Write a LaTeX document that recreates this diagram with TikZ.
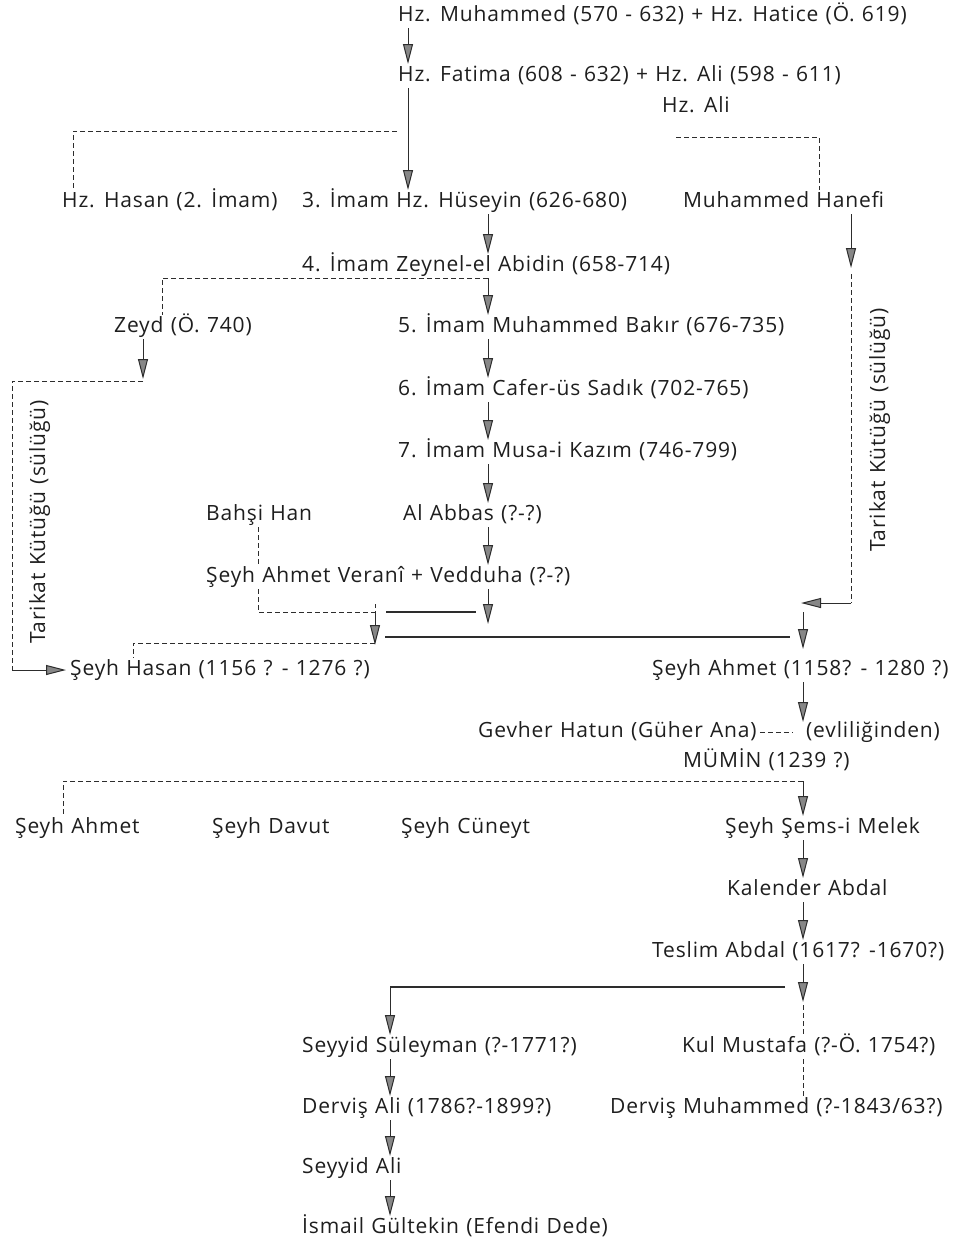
\documentclass[tikz,border=0pt]{standalone}
\usepackage{fontspec}
\setmainfont{Open Sans}[LetterSpace=4, WordSpace=1.15]
\usetikzlibrary{arrows.meta}
\definecolor{color_line}{RGB}{45, 45, 45}
\definecolor{color_tip}{RGB}{135, 135, 135}
\definecolor{color_text}{RGB}{30, 30, 30}

\begin{document}
\begin{tikzpicture}[
    x=1pt, y=-1pt,
    every node/.style={font=\fontsize{21}{25}\selectfont, text=color_text, anchor=west,
        inner sep=0pt, outer ysep=3pt, text height=14pt, text depth=4pt},
    link/.style={color_line, line width=1pt},
    dashlink/.style={link, dash pattern=on 5pt off 3pt},
    bar/.style={color_line, line width=1.6pt},
    tiparrow/.style={link, -{Triangle[length=20pt,width=10pt,fill=color_tip]}},
    sidelabel/.style={anchor=center, rotate=90}
]
    % page is 953 x 1250, y runs downwards
    \useasboundingbox (0,0) rectangle (953,1250);

    % columns of the arrows
    \coordinate (colA) at (408,0);
    \coordinate (colB) at (488,0);
    \coordinate (colC) at (851,0);
    \coordinate (colD) at (803,0);
    \coordinate (colE) at (390,0);
    \coordinate (colBahsi) at (258,0);
    \coordinate (colHasan) at (133,0);
    \coordinate (colAhmet) at (63,0);

    % names, top to bottom
    \node (muhammed)  at (398,16)   {Hz. Muhammed (570 - 632) + Hz. Hatice (Ö. 619)};
    \node (fatima)    at (398,76)   {Hz. Fatima (608 - 632) + Hz. Ali (598 - 611)};
    \node (ali)       at (662,107)  {Hz. Ali};
    \node (hasan)     at (62,202)   {Hz. Hasan (2. İmam)};
    \node (huseyin)   at (302,202)  {3. İmam Hz. Hüseyin (626-680)};
    \node (hanefi)    at (683,202)  {Muhammed Hanefi};
    \node (zeynel)    at (302,266)  {4. İmam Zeynel-el Abidin (658-714)};
    \node (zeyd)      at (114,327)  {Zeyd (Ö. 740)};
    \node (bakir)     at (398,327)  {5. İmam Muhammed Bakır (676-735)};
    \node (cafer)     at (398,390)  {6. İmam Cafer-üs Sadık (702-765)};
    \node (musa)      at (398,452)  {7. İmam Musa-i Kazım (746-799)};
    \node (bahsi)     at (206,515)  {Bahşi Han};
    \node (abbas)     at (403,515)  {Al Abbas (?-?)};
    \node (verani)    at (206,577)  {Şeyh Ahmet Veranî + Vedduha (?-?)};
    \node (seyhhasan) at (70,670)   {Şeyh Hasan (1156 ? - 1276 ?)};
    \node (seyhahmet) at (652,670)  {Şeyh Ahmet (1158? - 1280 ?)};
    \node (gevher)    at (478,732)  {Gevher Hatun (Güher Ana)};
    \node (evlilik)   at (806,732)  {(evliliğinden)};
    \node (mumin)     at (683,762)  {MÜMİN (1239 ?)};
    \node (ahmet)     at (15,828)   {Şeyh Ahmet};
    \node (davut)     at (212,828)  {Şeyh Davut};
    \node (cuneyt)    at (401,828)  {Şeyh Cüneyt};
    \node (sems)      at (725,828)  {Şeyh Şems-i Melek};
    \node (kalender)  at (727,890)  {Kalender Abdal};
    \node (teslim)    at (652,952)  {Teslim Abdal (1617? -1670?)};
    \node (suleyman)  at (302,1047) {Seyyid Süleyman (?-1771?)};
    \node (kul)       at (682,1047) {Kul Mustafa (?-Ö. 1754?)};
    \node (dervisali) at (302,1108) {Derviş Ali (1786?-1899?)};
    \node (dervismuh) at (610,1108) {Derviş Muhammed (?-1843/63?)};
    \node (seyyidali) at (302,1168) {Seyyid Ali};
    \node (ismail)    at (302,1228) {İsmail Gültekin (Efendi Dede)};

    \node[sidelabel] (kutukL) at (40,522) {Tarikat Kütüğü (sülüğü)};
    \node[sidelabel] (kutukR) at (880,430) {Tarikat Kütüğü (sülüğü)};

    % junctions
    \coordinate (jHasan)    at (73,131);
    \coordinate (jHanefi)   at (819,137);
    \coordinate (jZeyd)     at (162,284);
    \coordinate (jZeydTip)  at (143,379);
    \coordinate (jLeftTop)  at (12,381);
    \coordinate (jLeftBot)  at (12,670);
    \coordinate (jMerge)    at (375,612);
    \coordinate (jMergeTip) at (375,645);
    \coordinate (jHanefiTip) at (851,268);
    \coordinate (jAhmetIn)  at (801,603);
    \coordinate (jMarriage) at (803,722);
    \coordinate (jMumin)    at (803,781);
    \coordinate (jTeslim)   at (803,1002);

    % Hz. Muhammed -- Hz. Fatima -- sons
    \draw[tiparrow] (muhammed.south -| colA) -- (fatima.north -| colA);
    \draw[tiparrow] (fatima.south -| colA) -- (huseyin.north -| colA);
    \draw[dashlink] ([xshift=-11pt]jHasan -| colA) -- (jHasan) -- (hasan.north -| jHasan);
    \draw[dashlink] ([xshift=14pt]ali.west |- jHanefi) -- (jHanefi) -- (hanefi.north -| jHanefi);

    % line of the imams
    \draw[tiparrow] (huseyin.south -| colB) -- (zeynel.north -| colB);
    \draw[dashlink] (zeynel.south -| colB) -- (zeynel.south -| jZeyd) -- (zeyd.north -| jZeyd);
    \draw[tiparrow] (zeynel.south -| colB) -- (bakir.north -| colB);
    \draw[tiparrow] (bakir.south -| colB) -- (cafer.north -| colB);
    \draw[tiparrow] (cafer.south -| colB) -- (musa.north -| colB);
    \draw[tiparrow] (musa.south -| colB) -- (abbas.north -| colB);
    \draw[tiparrow] (abbas.south -| colB) -- (verani.north -| colB);
    \draw[tiparrow] (verani.south -| colB) -- ([yshift=-12pt]jMerge -| colB);

    % Zeyd -- left Tarikat line -- Şeyh Hasan
    \draw[tiparrow] (zeyd.south -| jZeydTip) -- (jZeydTip);
    \draw[dashlink] ([yshift=-2pt]jZeydTip) -- (jLeftTop) -- (jLeftBot);
    \draw[tiparrow] (jLeftBot) -- ([xshift=-4pt]seyhhasan.west);

    % Bahşi Han -- Veranî -- merge
    \draw[dashlink] (bahsi.south -| colBahsi) -- (verani.north -| colBahsi);
    \draw[dashlink] (verani.south -| colBahsi) -- (jMerge -| colBahsi) -- (jMerge) -- ++(0,-8);
    \draw[bar] ([xshift=11pt]jMerge) -- ([xshift=-12pt]jMerge -| colB);
    \draw[tiparrow] (jMerge) -- (jMergeTip);
    \draw[dashlink] ([yshift=2pt]jMergeTip) -- ([yshift=2pt]jMergeTip -| colHasan)
        -- (seyhhasan.north -| colHasan);
    \draw[bar] ([xshift=10pt,yshift=-25pt]jMerge) -- ([xshift=-13pt,yshift=-25pt]jMerge -| colD);

    % Muhammed Hanefi -- right Tarikat line -- Şeyh Ahmet
    \draw[tiparrow] (hanefi.south -| colC) -- (jHanefiTip);
    \draw[dashlink] ([yshift=-6pt]jHanefiTip) -- (jAhmetIn -| colC);
    \draw[tiparrow] (jAhmetIn -| colC) -- (jAhmetIn);
    \draw[tiparrow] ([yshift=-9pt]jAhmetIn -| colD) -- ([yshift=9pt]seyhahmet.north -| colD);

    % Şeyh Ahmet + Gevher Hatun -- MÜMİN
    \draw[tiparrow] (seyhahmet.south -| colD) -- (jMarriage);
    \draw[dashlink] ([xshift=3pt]gevher.east) -- ([xshift=-13pt]evlilik.west);
    \draw[dashlink] (jMumin) -- (jMumin -| colAhmet) -- (ahmet.north -| colAhmet);
    \draw[tiparrow] (jMumin) -- (sems.north -| colD);

    % Şems-i Melek -- Teslim Abdal
    \draw[tiparrow] (sems.south -| colD) -- (kalender.north -| colD);
    \draw[tiparrow] (kalender.south -| colD) -- (teslim.north -| colD);
    \draw[tiparrow] (teslim.south -| colD) -- (jTeslim);
    \draw[bar] ([xshift=-18pt,yshift=15pt]jTeslim) -- ([yshift=15pt]jTeslim -| colE);
    \draw[tiparrow] ([yshift=15pt]jTeslim -| colE) -- (suleyman.north -| colE);
    \draw[dashlink] ([yshift=-3pt]jTeslim) -- (kul.north -| colD);
    \draw[dashlink] (kul.south -| colD) -- (dervismuh.north -| colD);

    % Seyyid Süleyman -- İsmail Gültekin
    \draw[tiparrow] (suleyman.south -| colE) -- (dervisali.north -| colE);
    \draw[tiparrow] (dervisali.south -| colE) -- (seyyidali.north -| colE);
    \draw[tiparrow] (seyyidali.south -| colE) -- (ismail.north -| colE);

\end{tikzpicture}
\end{document}
